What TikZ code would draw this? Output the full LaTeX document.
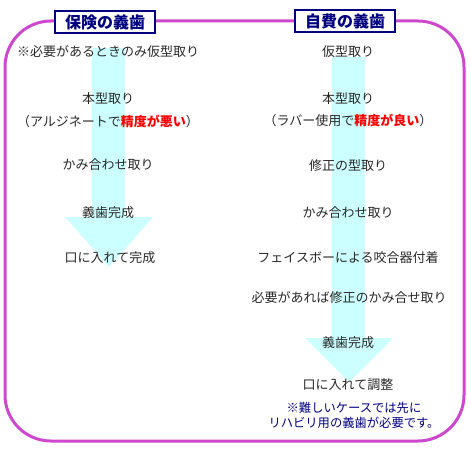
\documentclass[tikz,border=0pt]{standalone}
\usepackage{fontspec}
\setmainfont{Noto Sans CJK JP}
\usepackage{xcolor}
\usetikzlibrary{positioning}
\definecolor{frameC}{RGB}{206,72,206}
\definecolor{navyC}{RGB}{0,0,128}
\definecolor{shaftC}{RGB}{204,255,255}
\definecolor{txtC}{RGB}{40,40,40}

\begin{document}
\begin{tikzpicture}[x=1pt,y=-1pt,
    stp/.style={font=\fontsize{13}{15}\selectfont, text=txtC, inner sep=1pt, align=center},
    ttl/.style={draw=navyC, line width=1.2pt, fill=white, text=navyC, font=\fontsize{16}{18}\selectfont\bfseries,
                minimum width=100pt, minimum height=22pt, inner sep=0pt},
    note/.style={font=\fontsize{12.3}{15}\selectfont, text=navyC, align=center, inner sep=0pt}]
  \useasboundingbox (0,0) rectangle (470,470);
  % ---- flow arrows ----
  \fill[shaftC] (92,48) -- (125,48) -- (125,217) -- (153,217) -- (109,267) -- (65,217) -- (92,217) -- cycle;
  \fill[shaftC] (332,57) -- (365,57) -- (365,338) -- (393,338) -- (349,382) -- (305,338) -- (332,338) -- cycle;
  % ---- frame ----
  \draw[frameC, line width=3pt, rounded corners=46pt] (5,21) rectangle (464,441);
  \node[ttl] (t1) at (105,22) {保険の義歯};
  \node[ttl] (t2) at (345,21) {自費の義歯};
  % ---- insurance ----
  \node[stp] (l1) at (108,52) {※必要があるときのみ仮型取り};
  \node[stp] (l2) at (108,99) {本型取り};
  \node[stp] (l3) at (108,121) {（アルジネートで{\color{red}\bfseries 精度が悪い}）};
  \node[stp] (l4) at (108,165) {かみ合わせ取り};
  \node[stp] (l5) at (108,213) {義歯完成};
  \node[stp] (l6) at (110,258) {口に入れて完成};
  % ---- private ----
  \node[stp] (r1) at (348,52) {仮型取り};
  \node[stp] (r2) at (348,99) {本型取り};
  \node[stp] (r3) at (348,120) {（ラバー使用で{\color{red}\bfseries 精度が良い}）};
  \node[stp] (r4) at (348,166) {修正の型取り};
  \node[stp] (r5) at (348,213) {かみ合わせ取り};
  \node[stp] (r6) at (348,258) {フェイスボーによる咬合器付着};
  \node[stp] (r7) at (349,298) {必要があれば修正のかみ合せ取り};
  \node[stp] (r8) at (348,343) {義歯完成};
  \node[stp] (r9) at (348,385) {口に入れて調整};
  \node[note] (n1) at (354,415) {※難しいケースでは先に\\リハビリ用の義歯が必要です。};
\end{tikzpicture}
\end{document}
